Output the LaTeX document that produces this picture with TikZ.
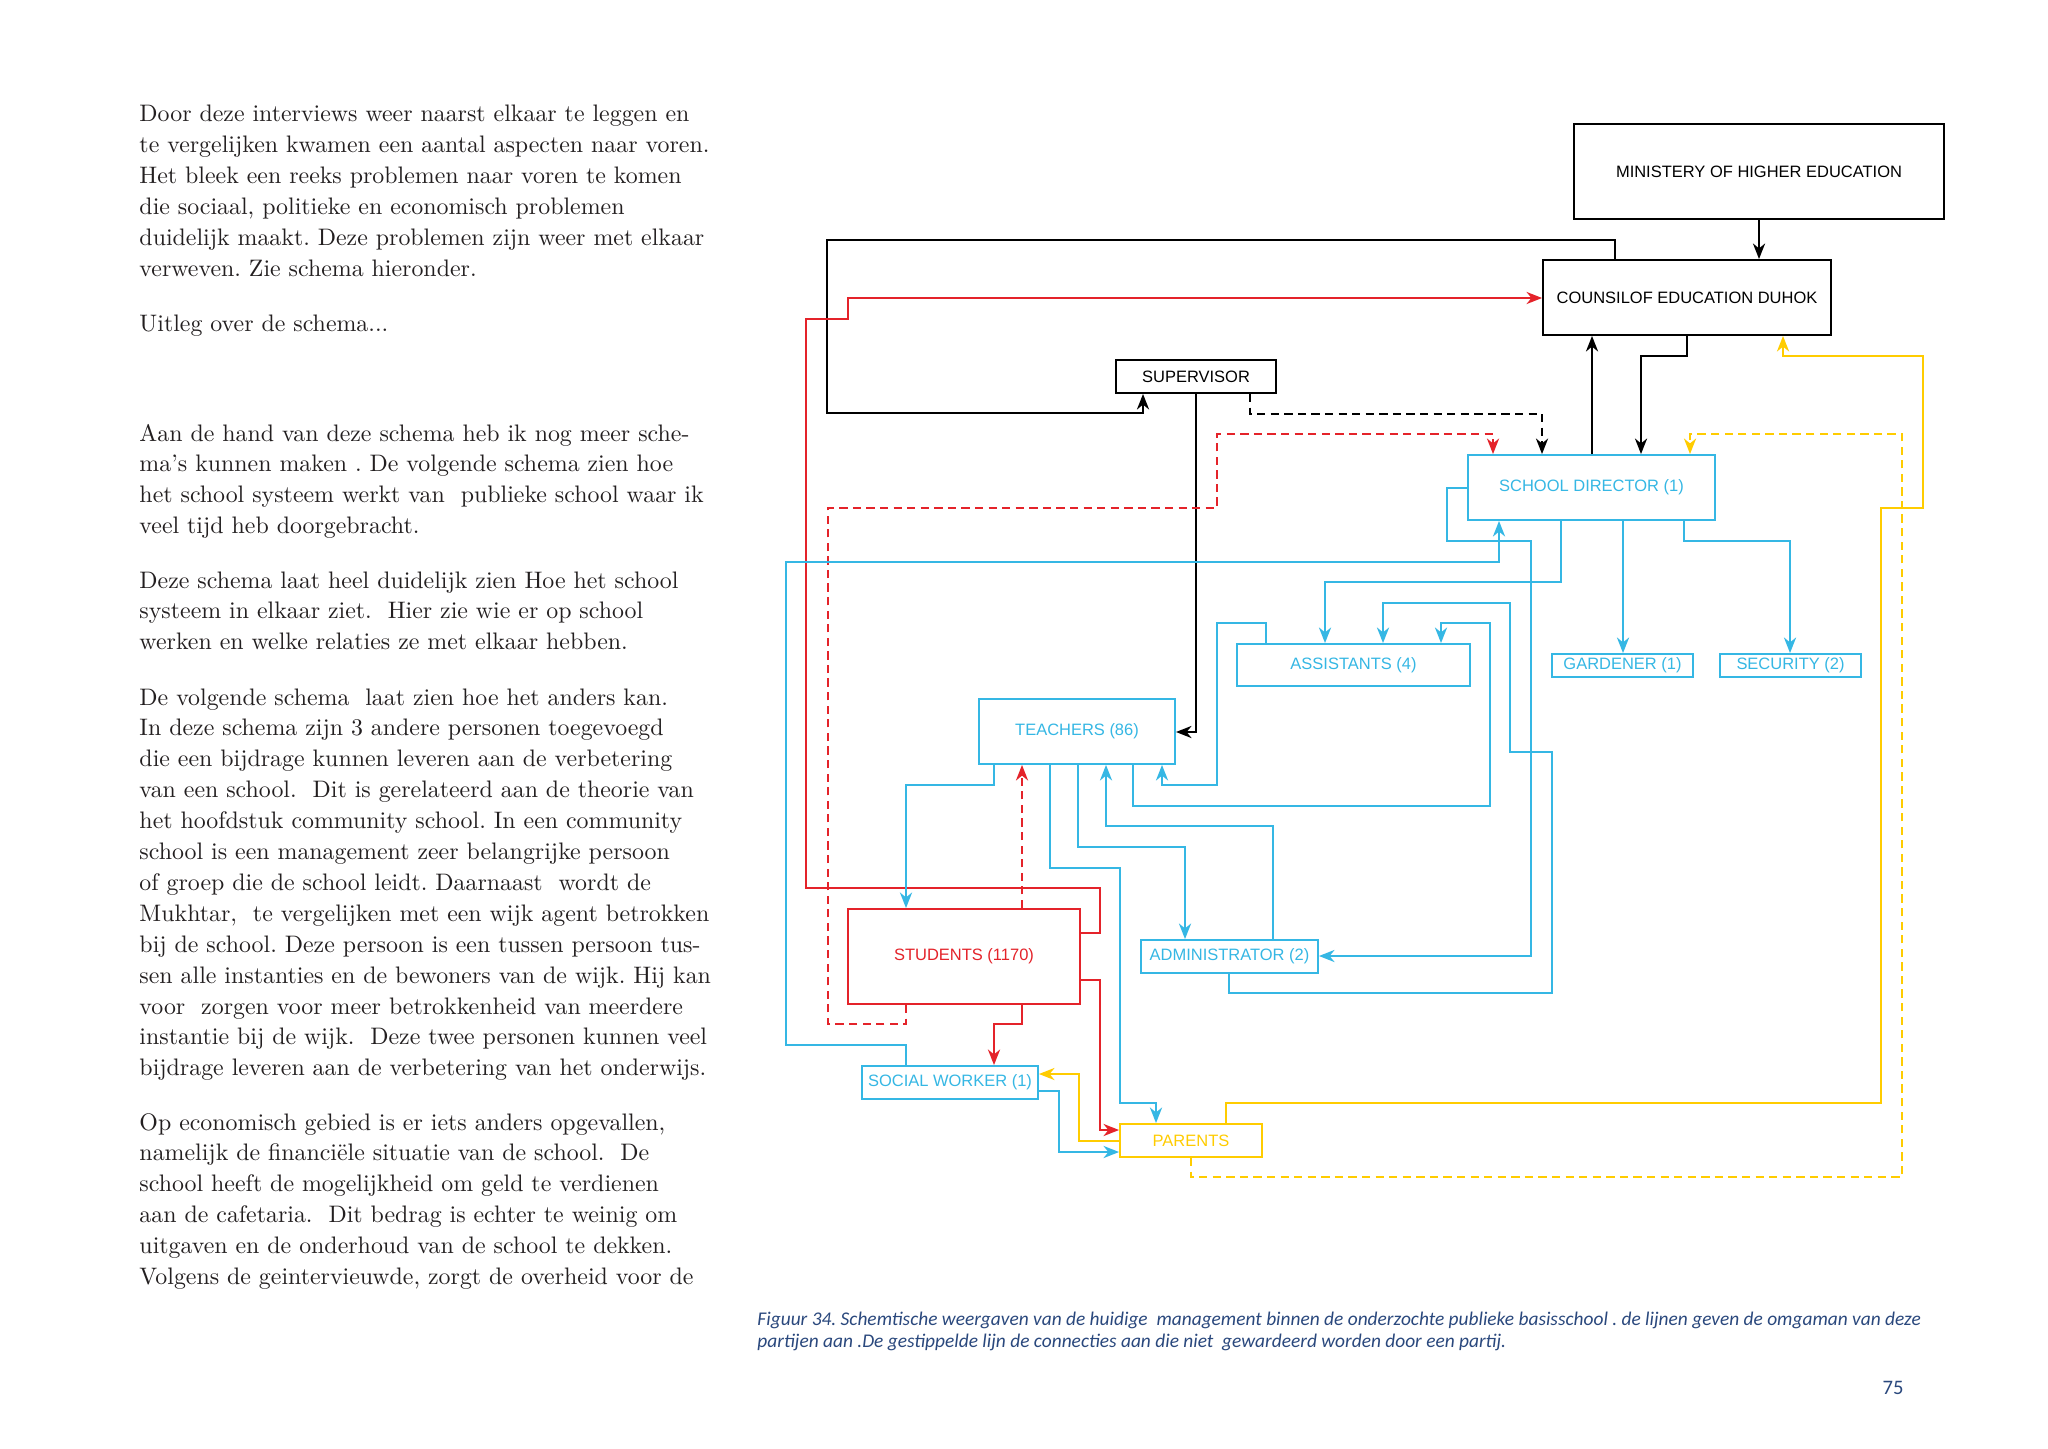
\documentclass[tikz,border=0pt]{standalone}
\usepackage{fontspec}
\newfontfamily\arialf{Liberation Sans}
\newfontfamily\capf{Carlito}
\usetikzlibrary{arrows.meta}
\definecolor{cy}{RGB}{53,183,228}
\definecolor{rd}{RGB}{228,35,42}
\definecolor{yl}{RGB}{255,204,0}
\definecolor{capblue}{RGB}{42,72,125}
\definecolor{txtc}{RGB}{35,31,32}
\newcommand\mybox[7]{\node[#6, minimum width={(#4-#2)*0.14502mm}, minimum height={(#5-#3)*0.14502mm}] (#1) at ({(#2+#4)/2},{(#3+#5)/2}) {#7};}
\tikzset{
  boxs/.style={draw, line width=0.8pt, inner sep=0pt, font=\arialf\fontsize{6.8}{8}\selectfont},
  bbox/.style={boxs, draw=black, text=black},
  cbox/.style={boxs, draw=cy, text=cy},
  rbox/.style={boxs, draw=rd, text=rd},
  ybox/.style={boxs, draw=yl, text=yl},
  con/.style={line width=0.8pt, -{Stealth[length=6.4pt,width=5pt,inset=2pt]}},
  dsh/.style={dash pattern=on 3.4pt off 2.2pt},
  bodytxt/.style={anchor=base west, inner sep=0pt, text=txtc, font=\fontsize{9.85}{12.75}\selectfont},
}
\begin{document}
\begin{tikzpicture}[x=0.14502mm,y=-0.14502mm]
\fill[white] (0,0) rectangle (2048,1448);
\useasboundingbox (0,0) rectangle (2048,1448);
\frenchspacing
% ---------------- body text ----------------
\node[bodytxt] (p1) at (139,121.7) {\parbox[t]{140mm}{\raggedright
Door deze interviews weer naarst elkaar te leggen en\\
te vergelijken kwamen een aantal aspecten naar voren.\\
Het bleek een reeks problemen naar voren te komen\\
die sociaal, politieke en economisch problemen\\
duidelijk maakt. Deze problemen zijn weer met elkaar\\
verweven. Zie schema hieronder.}};
\node[bodytxt] (p2) at (139,331) {\parbox[t]{140mm}{\raggedright Uitleg over de schema...}};
\node[bodytxt] (p3) at (139,441) {\parbox[t]{140mm}{\raggedright
Aan de hand van deze schema heb ik nog meer sche-\\
ma’s kunnen maken . De volgende schema zien hoe\\
het school systeem werkt van\ \ publieke school waar ik\\
veel tijd heb doorgebracht.}};
\node[bodytxt] (p4) at (139,588) {\parbox[t]{140mm}{\raggedright
Deze schema laat heel duidelijk zien Hoe het school\\
systeem in elkaar ziet.\ \ Hier zie wie er op school\\
werken en welke relaties ze met elkaar hebben.}};
\node[bodytxt] (p5) at (139,705) {\parbox[t]{140mm}{\raggedright
De volgende schema\ \ laat zien hoe het anders kan.\\
In deze schema zijn 3 andere personen toegevoegd\\
die een bijdrage kunnen leveren aan de verbetering\\
van een school.\ \ Dit is gerelateerd aan de theorie van\\
het hoofdstuk community school. In een community\\
school is een management zeer belangrijke persoon\\
of groep die de school leidt. Daarnaast\ \ wordt de\\
Mukhtar,\ \ te vergelijken met een wijk agent betrokken\\
bij de school. Deze persoon is een tussen persoon tus-\\
sen alle instanties en de bewoners van de wijk. Hij kan\\
voor\ \ zorgen voor meer betrokkenheid van meerdere\\
instantie bij de wijk.\ \ Deze twee personen kunnen veel\\
bijdrage leveren aan de verbetering van het onderwijs.}};
\node[bodytxt] (p6) at (139,1130) {\parbox[t]{140mm}{\raggedright
Op economisch gebied is er iets anders opgevallen,\\
namelijk de financiële situatie van de school.\ \ De\\
school heeft de mogelijkheid om geld te verdienen\\
aan de cafetaria.\ \ Dit bedrag is echter te weinig om\\
uitgaven en de onderhoud van de school te dekken.\\
Volgens de geintervieuwde, zorgt de overheid voor de}};
% ---------------- caption ----------------
\node[anchor=base west, inner sep=0pt, text=capblue, font=\capf\itshape\fontsize{8.0}{9.07}\selectfont] (cap) at (757,1325) {\parbox[t]{210mm}{\raggedright
Figuur 34. Schemtische weergaven van de huidige\ \ management binnen de onderzochte publieke basisschool . de lijnen geven de omgaman van deze\\
partijen aan .De gestippelde lijn de connecties aan die niet\ \ gewardeerd worden door een partij.}};
\node[anchor=base east, inner sep=0pt, text=capblue, font=\capf\fontsize{8.5}{10}\selectfont] (pnum) at (1904,1394) {75};
% ---------------- boxes ----------------
\mybox{mini}{1574}{124}{1944}{219}{bbox}{MINISTERY OF HIGHER EDUCATION}
\mybox{cou}{1543}{260}{1831}{335}{bbox}{COUNSILOF EDUCATION DUHOK}
\mybox{sup}{1116}{360}{1276}{393}{bbox}{SUPERVISOR}
\mybox{sd}{1468}{455}{1715}{520}{cbox}{SCHOOL DIRECTOR (1)}
\mybox{ass}{1237}{644}{1470}{686}{cbox}{ASSISTANTS (4)}
\mybox{gar}{1552}{654}{1693}{677}{cbox}{GARDENER (1)}
\mybox{sec}{1720}{654}{1861}{677}{cbox}{SECURITY (2)}
\mybox{tea}{979}{699}{1175}{764}{cbox}{TEACHERS (86)}
\mybox{stu}{848}{909}{1080}{1004}{rbox}{STUDENTS (1170)}
\mybox{adm}{1141}{940}{1318}{973}{cbox}{ADMINISTRATOR (2)}
\mybox{sw}{862}{1066}{1038}{1099}{cbox}{SOCIAL WORKER (1)}
\mybox{par}{1120}{1124}{1262}{1157}{ybox}{PARENTS}
% ---------------- black connectors ----------------
\draw[con] (mini.south -| 1759,0) -- (cou.north -| 1759,0);
\draw[con] (cou.north -| 1615,0) -- (1615,240) -- (827,240) -- (827,413) -- (1143,413) -- (sup.south -| 1143,0);
\draw[con] (sup.south -| 1196,0) -- (1196,732) -- (tea.east |- 0,732);
\draw[con,dsh] (sup.south -| 1250,0) -- (1250,414) -- (1542,414) -- (sd.north -| 1542,0);
\draw[con] (sd.north -| 1592,0) -- (cou.south -| 1592,0);
\draw[con] (cou.south -| 1687,0) -- (1687,356) -- (1641,356) -- (sd.north -| 1641,0);
% ---------------- red connectors ----------------
\draw[con,rd] (stu.east |- 0,933) -- (1100,933) -- (1100,888) -- (806,888) -- (806,319) -- (848,319) -- (848,298) -- (cou.west |- 0,298);
\draw[con,rd,dsh] (stu.south -| 906,0) -- (906,1024) -- (828,1024) -- (828,508) -- (1217,508) -- (1217,434) -- (1493,434) -- (sd.north -| 1493,0);
\draw[con,rd,dsh] (stu.north -| 1022,0) -- (tea.south -| 1022,0);
\draw[con,rd] (stu.south -| 1022,0) -- (1022,1024) -- (994,1024) -- (sw.north -| 994,0);
\draw[con,rd] (stu.east |- 0,980) -- (1100,980) -- (1100,1130) -- (par.west |- 0,1130);
% ---------------- cyan connectors ----------------
\draw[con,cy] (sw.north -| 906,0) -- (906,1045) -- (786,1045) -- (786,562) -- (1499,562) -- (sd.south -| 1499,0);
\draw[con,cy] (sd.west |- 0,488) -- (1447,488) -- (1447,541) -- (1531,541) -- (1531,956) -- (adm.east |- 0,956);
\draw[con,cy] (sd.south -| 1561,0) -- (1561,582) -- (1325,582) -- (ass.north -| 1325,0);
\draw[con,cy] (sd.south -| 1623,0) -- (gar.north -| 1623,0);
\draw[con,cy] (sd.south -| 1684,0) -- (1684,541) -- (1790,541) -- (sec.north -| 1790,0);
\draw[con,cy] (adm.south -| 1229,0) -- (1229,993) -- (1552,993) -- (1552,752) -- (1510,752) -- (1510,603) -- (1383,603) -- (ass.north -| 1383,0);
\draw[con,cy] (tea.south -| 1133,0) -- (1133,806) -- (1490,806) -- (1490,623) -- (1441,623) -- (ass.north -| 1441,0);
\draw[con,cy] (ass.north -| 1266,0) -- (1266,623) -- (1217,623) -- (1217,785) -- (1162,785) -- (tea.south -| 1162,0);
\draw[con,cy] (tea.south -| 994,0) -- (994,785) -- (906,785) -- (stu.north -| 906,0);
\draw[con,cy] (tea.south -| 1050,0) -- (1050,868) -- (1120,868) -- (1120,1103) -- (1156,1103) -- (par.north -| 1156,0);
\draw[con,cy] (tea.south -| 1078,0) -- (1078,847) -- (1185,847) -- (adm.north -| 1185,0);
\draw[con,cy] (adm.north -| 1273,0) -- (1273,826) -- (1106,826) -- (tea.south -| 1106,0);
\draw[con,cy] (sw.east |- 0,1091) -- (1059,1091) -- (1059,1152) -- (par.west |- 0,1152);
% ---------------- yellow connectors ----------------
\draw[con,yl] (par.west |- 0,1141) -- (1079,1141) -- (1079,1074) -- (sw.east |- 0,1074);
\draw[con,yl] (par.north -| 1226,0) -- (1226,1103) -- (1881,1103) -- (1881,508) -- (1923,508) -- (1923,356) -- (1783,356) -- (cou.south -| 1783,0);
\draw[con,yl,dsh] (par.south -| 1191,0) -- (1191,1177) -- (1902,1177) -- (1902,434) -- (1690,434) -- (sd.north -| 1690,0);
\end{tikzpicture}
\end{document}
